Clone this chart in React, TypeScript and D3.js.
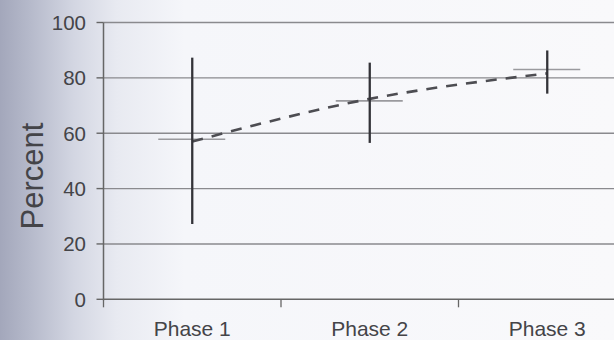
import React from "react";
import * as d3 from "d3";

const categories = ["Phase 1", "Phase 2", "Phase 3"];
const highValues = [87.3, 85.5, 89.9];
const lowValues = [27.2, 56.5, 74.3];
const meanValues = [57.8, 71.7, 83.0];
const trendValues = [57.0, 72.4, 81.6];
const yTicks = [0, 20, 40, 60, 80, 100];

const W = 614;
const H = 340;
const left = 103.5;
const bandW = 177.5;

export default function App() {
  const x = d3
    .scaleBand<string>()
    .domain(categories)
    .range([left, left + bandW * categories.length])
    .paddingInner(0)
    .paddingOuter(0);
  const y = d3.scaleLinear().domain([0, 100]).range([299.3, 22.5]);
  const cx = (c: string) => (x(c) as number) + x.bandwidth() / 2;

  const line = d3
    .line<number>()
    .x((_, i) => cx(categories[i]))
    .y((d) => y(d))
    .curve(d3.curveNatural);

  const font = "'Liberation Sans', Arial, sans-serif";
  const xEnd = left + bandW * categories.length;

  return (
    <svg
      width={W}
      height={H}
      style={{ position: "absolute", left: 0, top: 0 }}
      fontFamily={font}
    >
      <defs>
        <linearGradient id="bg" x1="0" x2="1" y1="0" y2="0">
          <stop offset="0" stopColor="#a3a7bb" />
          <stop offset="0.05" stopColor="#b6bacb" />
          <stop offset="0.12" stopColor="#d3d6e2" />
          <stop offset="0.19" stopColor="#e8eaf1" />
          <stop offset="0.3" stopColor="#f5f6fa" />
          <stop offset="1" stopColor="#f9f9fb" />
        </linearGradient>
      </defs>
      <rect x={0} y={0} width={W} height={H} fill="url(#bg)" />

      {/* gridlines */}
      {yTicks.map((t) => (
        <line
          key={"g" + t}
          x1={left}
          x2={W}
          y1={y(t)}
          y2={y(t)}
          stroke={t === 0 ? "#666" : "#8a8a8e"}
          strokeWidth={t === 0 ? 1.6 : 1.4}
        />
      ))}
      {/* y axis */}
      <line x1={left} x2={left} y1={y(100)} y2={y(0) + 1} stroke="#666" strokeWidth={1.5} />
      {yTicks.map((t) => (
        <g key={"t" + t}>
          <line x1={left - 7} x2={left} y1={y(t)} y2={y(t)} stroke="#666" strokeWidth={1.4} />
          <text
            x={86}
            y={y(t)}
            dy="0.36em"
            textAnchor="end"
            fontSize={20.5}
            fill="#444448"
          >
            {t}
          </text>
        </g>
      ))}
      {/* x ticks */}
      {categories.map((c) => (
        <line
          key={"xt" + c}
          x1={x(c) as number}
          x2={x(c) as number}
          y1={y(0)}
          y2={y(0) + 8}
          stroke="#666"
          strokeWidth={1.3}
        />
      ))}
      <line x1={xEnd} x2={xEnd} y1={y(0)} y2={y(0) + 8} stroke="#666" strokeWidth={1.3} />
      {categories.map((c) => (
        <text
          key={"xl" + c}
          x={cx(c)}
          y={335.5}
          textAnchor="middle"
          fontSize={21}
          fill="#444448"
        >
          {c}
        </text>
      ))}
      <text
        transform={`translate(43,${176}) rotate(-90)`}
        textAnchor="middle"
        fontSize={31}
        fill="#444448"
      >
        Percent
      </text>

      {/* mean lines */}
      {categories.map((c, i) => (
        <line
          key={"m" + c}
          x1={cx(c) - 34}
          x2={cx(c) + 33}
          y1={y(meanValues[i])}
          y2={y(meanValues[i])}
          stroke="#9a9a9e"
          strokeWidth={1.6}
        />
      ))}
      {/* trend dashed line */}
      <path
        d={line(trendValues) || ""}
        fill="none"
        stroke="#4d4d52"
        strokeWidth={2.6}
        strokeDasharray="11 9"
      />
      {/* error bars */}
      {categories.map((c, i) => (
        <line
          key={"e" + c}
          x1={cx(c)}
          x2={cx(c)}
          y1={y(highValues[i])}
          y2={y(lowValues[i])}
          stroke="#333338"
          strokeWidth={2.3}
        />
      ))}
    </svg>
  );
}
